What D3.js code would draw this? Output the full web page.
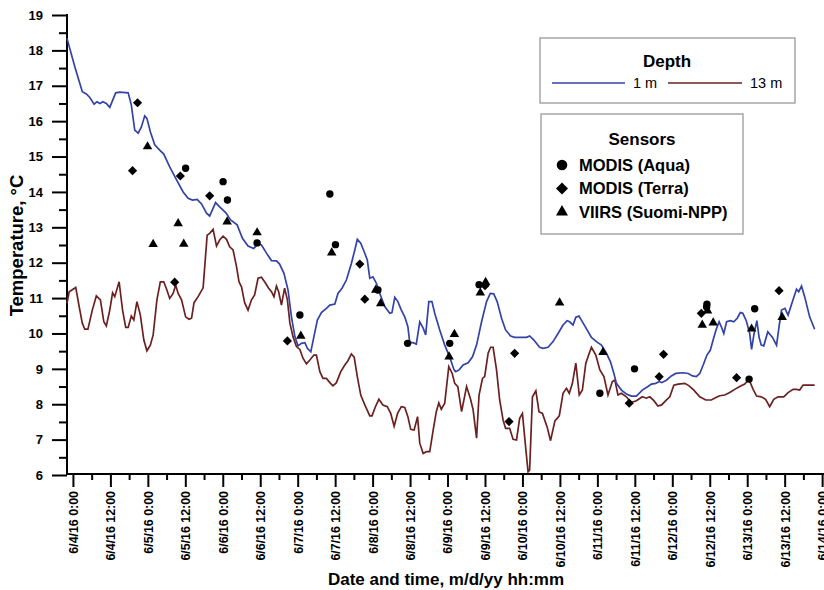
<!DOCTYPE html>
<html>
<head>
<meta charset="utf-8">
<script src="https://cdn.jsdelivr.net/npm/d3@7"></script>
<style>
  body { margin: 0; background: #fff; }
  svg { display: block; font-family: Arial, "Liberation Sans", sans-serif; }
  .tick text { font-weight: bold; fill: #000; }
</style>
</head>
<body>
<svg width="824" height="590"></svg>
<script>
// hours after 6/4/16 0:00, temperature in degC
var depth1m = [[-1.9,18.34],[0.6,17.54],[3.0,16.83],[4.3,16.77],[5.4,16.67],[6.8,16.48],[7.7,16.55],[8.6,16.5],[9.6,16.55],[10.7,16.5],[11.8,16.39],[13.7,16.8],[15.0,16.82],[17.7,16.8],[18.7,16.46],[19.8,15.75],[20.9,15.66],[21.9,15.83],[23.0,16.15],[23.7,16.08],[24.8,15.7],[26.2,15.33],[27.8,15.18],[29.1,15.07],[31.0,14.71],[33.2,14.34],[35.3,14.0],[36.9,13.82],[38.3,13.77],[39.8,13.79],[41.2,13.66],[42.8,13.40],[43.8,13.32],[45.7,13.70],[47.0,13.58],[49.0,13.41],[50.5,13.21],[52.6,13.07],[54.3,12.69],[56.1,12.47],[57.9,12.40],[59.3,12.53],[60.4,12.50],[62.0,12.27],[63.6,12.06],[65.2,12.05],[66.2,11.96],[67.6,11.70],[68.9,11.23],[70.0,10.47],[71.1,9.91],[72.1,9.65],[73.2,9.72],[74.3,9.74],[75.1,9.58],[76.2,9.48],[77.2,9.91],[78.3,10.38],[79.6,10.59],[81.2,10.71],[82.3,10.80],[83.9,10.83],[84.9,11.13],[86.2,11.28],[87.6,11.51],[89.2,11.98],[90.3,12.36],[91.1,12.66],[92.2,12.55],[93.3,12.31],[94.3,12.08],[95.1,11.56],[96.1,11.60],[97.2,11.42],[98.3,11.13],[99.9,10.76],[101.5,10.57],[102.2,10.59],[103.1,11.02],[104.1,10.90],[105.2,10.66],[106.3,10.47],[107.3,10.19],[107.9,9.74],[108.9,9.74],[110.0,9.70],[111.1,10.33],[112.2,10.15],[113.0,9.96],[114.0,10.90],[115.0,10.90],[115.9,10.57],[117.5,10.10],[119.1,9.67],[120.7,9.33],[122.1,8.97],[122.6,8.92],[123.7,8.97],[125.0,9.11],[126.6,9.17],[128.0,9.34],[129.3,9.67],[130.9,10.33],[132.5,10.90],[133.7,11.13],[134.8,11.12],[135.9,10.90],[137.3,10.43],[138.6,10.10],[140.2,9.93],[141.5,9.89],[143.1,9.89],[145.3,9.89],[146.3,9.93],[147.6,9.82],[149.5,9.61],[150.6,9.58],[152.2,9.61],[153.8,9.77],[155.4,10.0],[157.0,10.24],[158.3,10.36],[159.1,10.33],[160.2,10.24],[161.1,10.46],[162.1,10.49],[163.4,10.30],[164.7,10.10],[166.1,9.89],[167.7,9.77],[169.3,9.67],[170.9,9.44],[172.2,9.20],[173.3,8.87],[174.1,8.59],[175.7,8.40],[177.3,8.29],[178.9,8.23],[180.5,8.23],[182.4,8.40],[184.2,8.50],[185.3,8.57],[186.7,8.59],[187.8,8.64],[188.6,8.61],[190.1,8.68],[191.7,8.80],[193.1,8.87],[195.5,8.89],[197.1,8.87],[198.5,8.80],[199.7,8.78],[200.8,8.87],[201.9,9.11],[203.1,9.39],[204.2,9.53],[205.1,9.82],[206.0,10.10],[207.0,10.33],[207.8,10.17],[208.5,10.00],[209.4,10.33],[210.6,10.36],[211.7,10.33],[212.8,10.43],[213.8,10.59],[214.6,10.57],[215.7,10.36],[216.8,10.0],[217.4,9.55],[218.2,10.0],[219.1,10.36],[219.8,9.89],[220.5,9.67],[221.3,9.65],[222.6,10.05],[224.1,9.89],[225.4,9.67],[226.2,10.19],[227.0,10.66],[228.1,10.71],[229.1,10.52],[230.7,10.96],[231.8,11.25],[232.5,11.18],[233.4,11.34],[234.4,11.04],[236.0,10.47],[237.6,10.12]];

var depth13m = [[-1.9,10.85],[-1.2,11.18],[0.9,11.30],[2.0,10.76],[3.0,10.29],[3.8,10.12],[4.8,10.12],[6.2,10.66],[7.5,11.06],[8.8,10.95],[9.9,10.33],[10.7,10.21],[11.8,10.66],[12.7,11.15],[13.4,11.04],[14.8,11.46],[15.9,10.66],[16.9,10.17],[17.7,10.17],[18.7,10.49],[19.5,10.38],[20.5,10.90],[21.6,10.52],[22.7,9.82],[23.7,9.51],[24.8,9.67],[25.7,9.96],[26.9,10.95],[28.0,11.46],[29.1,11.46],[30.1,11.23],[31.0,10.99],[32.1,11.13],[32.9,11.37],[33.7,11.13],[34.8,10.95],[36.1,10.47],[37.2,10.40],[38.0,10.43],[38.8,10.87],[40.1,11.04],[41.7,11.29],[43.0,12.78],[43.8,12.83],[44.9,12.94],[46.0,12.47],[47.0,12.64],[48.1,12.75],[49.2,12.66],[50.2,12.45],[51.3,12.36],[52.4,11.89],[53.2,11.46],[54.0,11.32],[55.0,10.87],[56.1,10.66],[57.2,10.95],[58.2,11.09],[59.3,11.56],[60.4,11.59],[61.4,11.46],[62.7,11.28],[63.6,11.18],[64.4,11.04],[65.2,11.34],[65.9,11.18],[66.8,10.80],[67.8,11.28],[68.7,10.95],[69.5,10.29],[70.5,9.91],[71.6,9.63],[72.7,9.55],[73.7,9.30],[74.8,9.14],[75.9,9.25],[77.2,9.39],[78.0,9.39],[79.1,8.92],[80.1,8.73],[81.2,8.73],[82.3,8.61],[83.3,8.52],[84.4,8.61],[85.8,8.92],[87.1,9.11],[88.1,9.23],[89.2,9.42],[90.1,9.33],[91.1,8.78],[92.2,8.26],[93.5,7.98],[95.1,7.67],[95.8,7.67],[96.9,7.93],[98.0,8.14],[99.3,7.98],[100.7,7.93],[101.8,7.74],[102.9,7.38],[104.0,7.74],[105.2,7.93],[106.3,7.91],[107.3,7.65],[108.2,7.29],[109.3,7.27],[110.4,7.65],[111.1,6.90],[112.2,6.61],[113.2,6.66],[114.3,6.66],[115.4,7.27],[116.4,7.79],[117.2,8.04],[118.0,7.86],[119.1,8.03],[120.4,9.06],[121.5,8.87],[122.3,8.59],[123.3,8.50],[124.5,7.79],[126.1,8.50],[127.3,8.17],[128.2,7.84],[129.3,7.04],[130.1,8.26],[131.2,8.73],[131.9,8.78],[133.0,9.44],[133.8,9.61],[134.6,9.61],[135.7,8.97],[136.7,8.12],[137.8,7.55],[138.6,7.32],[139.9,7.32],[141.0,7.01],[142.1,6.99],[143.1,7.60],[144.0,7.74],[145.1,6.71],[145.8,6.09],[146.3,6.14],[147.2,8.21],[148.3,8.38],[149.3,7.79],[150.4,7.74],[151.9,7.36],[153.0,6.97],[154.4,7.53],[155.8,7.67],[157.0,8.31],[158.1,8.45],[159.0,8.31],[160.0,8.59],[161.1,9.16],[162.2,8.26],[163.2,8.40],[164.3,9.16],[165.4,9.44],[166.1,9.61],[167.5,9.39],[168.8,8.97],[170.1,8.78],[171.4,8.26],[172.8,8.64],[173.6,8.68],[174.6,8.26],[175.7,8.31],[177.3,8.21],[178.8,8.05],[180.5,8.10],[182.4,8.21],[183.7,8.17],[184.8,8.21],[186.1,8.10],[187.4,7.95],[188.6,7.98],[189.9,8.10],[191.2,8.21],[192.5,8.54],[193.9,8.57],[196.0,8.59],[197.4,8.52],[198.9,8.40],[200.8,8.21],[202.7,8.12],[204.5,8.12],[206.0,8.19],[207.2,8.24],[208.8,8.26],[210.4,8.33],[212.0,8.42],[213.6,8.50],[215.2,8.57],[216.3,8.68],[217.0,8.61],[217.9,8.42],[219.0,8.23],[220.5,8.21],[221.9,8.14],[223.2,7.93],[224.5,8.14],[225.9,8.21],[227.7,8.21],[229.1,8.33],[230.7,8.42],[231.8,8.42],[232.8,8.40],[233.9,8.54],[235.5,8.54],[237.6,8.54]];

var modisAqua = [[36.1,14.67],[48.1,14.29],[49.5,13.77],[59.0,12.56],[72.7,10.52],[82.3,13.94],[84.1,12.51],[97.7,11.23],[107.2,9.72],[120.7,9.72],[130.1,11.38],[168.8,8.31],[179.9,9.00],[203.1,10.83],[203.0,10.75],[216.6,8.71],[218.4,10.70]];

var modisTerra = [[20.7,16.52],[19.1,14.60],[34.4,14.45],[43.8,13.89],[32.6,11.45],[68.7,9.79],[91.9,11.96],[93.5,10.97],[132.0,11.35],[141.5,9.44],[139.7,7.51],[178.2,8.03],[187.8,8.78],[189.2,9.41],[201.3,10.57],[212.6,8.75],[226.2,11.21]];

var viirs = [[23.9,15.28],[25.7,12.52],[33.7,13.11],[35.5,12.53],[49.4,13.16],[59.0,12.85],[73.0,9.93],[82.9,12.28],[97.0,11.23],[98.6,10.85],[120.5,9.34],[122.2,9.98],[130.5,11.15],[132.2,11.45],[155.9,10.87],[169.8,9.47],[201.6,10.24],[203.3,10.64],[205.1,10.30],[217.4,10.13],[227.2,10.46]];

var yTicks = [6, 7, 8, 9, 10, 11, 12, 13, 14, 15, 16, 17, 18, 19];
var depthNames = ["1 m", "13 m"];
var sensorNames = ["MODIS (Aqua)", "MODIS (Terra)", "VIIRS (Suomi-NPP)"];

var blue = "#3343a8";
var brown = "#6b2122";

var start = new Date(2016, 5, 4, 0, 0);
function toDate(h) { return new Date(start.getTime() + h * 3600000); }

var svg = d3.select("svg");

var x = d3.scaleTime()
    .domain([toDate(-1.9), toDate(240.6)])
    .range([67, 824]);
var y = d3.scaleLinear()
    .domain([6, 19])
    .range([475, 15]);

// axes
var major = d3.timeHour.every(12).range(toDate(0), toDate(240.5));
var minor = d3.timeHour.every(6).range(toDate(0), toDate(240.5))
    .filter(function(d) { return d.getHours() % 12 !== 0; });
var fmt = d3.timeFormat("%-m/%-d/%y %-H:%M");

var gx = svg.append("g").attr("transform", "translate(0,474)");
gx.append("g")
    .call(d3.axisBottom(x).tickValues(minor).tickSize(6).tickFormat(""))
    .call(function(g) { g.select(".domain").remove(); });
gx.append("g")
    .call(d3.axisBottom(x).tickValues(major).tickSize(13).tickFormat(fmt))
    .call(function(g) { g.select(".domain").remove(); })
    .selectAll("text")
    .attr("transform", "rotate(-90)")
    .attr("x", -17)
    .attr("y", 0)
    .attr("dy", "0.36em")
    .style("text-anchor", "end")
    .style("font-size", "12.4px");
gx.selectAll("line").attr("stroke", "#000").attr("stroke-width", 2);

var gy = svg.append("g").attr("transform", "translate(67,0)");
gy.append("g")
    .call(d3.axisLeft(y).tickValues(d3.range(6.5, 19, 1)).tickSize(8).tickFormat(""))
    .call(function(g) { g.select(".domain").remove(); });
gy.append("g")
    .call(d3.axisLeft(y).tickValues(yTicks).tickSize(15).tickPadding(9).tickFormat(d3.format("d")))
    .call(function(g) { g.select(".domain").remove(); })
    .selectAll("text")
    .style("font-size", "13px");
gy.selectAll("line").attr("stroke", "#000").attr("stroke-width", 2);

svg.append("line")
    .attr("x1", 67).attr("x2", 67).attr("y1", 14).attr("y2", 475)
    .attr("stroke", "#000").attr("stroke-width", 2);
svg.append("line")
    .attr("x1", 66).attr("x2", 824).attr("y1", 474).attr("y2", 474)
    .attr("stroke", "#000").attr("stroke-width", 2);

// lines
var line = d3.line()
    .x(function(d) { return x(toDate(d[0])); })
    .y(function(d) { return y(d[1]); });

svg.append("path").datum(depth13m)
    .attr("d", line).attr("fill", "none")
    .attr("stroke", brown).attr("stroke-width", 1.7);
svg.append("path").datum(depth1m)
    .attr("d", line).attr("fill", "none")
    .attr("stroke", blue).attr("stroke-width", 1.7);

// marker shapes
function circle(r) { return function(cx, cy) { return "M" + (cx + r) + "," + cy + "A" + r + "," + r + " 0 1,1 " + (cx - r) + "," + cy + "A" + r + "," + r + " 0 1,1 " + (cx + r) + "," + cy + "Z"; }; }
function diamond(r) { return function(cx, cy) { return "M" + cx + "," + (cy - r) + "L" + (cx + r) + "," + cy + "L" + cx + "," + (cy + r) + "L" + (cx - r) + "," + cy + "Z"; }; }
function triangle(s) { return function(cx, cy) { var h = s * 0.866; return "M" + cx + "," + (cy - h * 2 / 3) + "L" + (cx + s / 2) + "," + (cy + h / 3) + "L" + (cx - s / 2) + "," + (cy + h / 3) + "Z"; }; }

var sets = [
    {data: modisAqua, shape: circle(3.7)},
    {data: modisTerra, shape: diamond(4.6)},
    {data: viirs, shape: triangle(9.5)}
];
sets.forEach(function(s) {
    svg.append("g").selectAll("path")
        .data(s.data)
      .enter().append("path")
        .attr("d", function(d) { return s.shape(x(toDate(d[0])), y(d[1])); })
        .attr("fill", "#000");
});

// axis titles
svg.append("text")
    .attr("transform", "translate(22.5,245.5) rotate(-90)")
    .attr("text-anchor", "middle")
    .style("font-size", "18.5px").style("font-weight", "bold")
    .text("Temperature, \u00B0C");
svg.append("text")
    .attr("x", 446).attr("y", 585)
    .attr("text-anchor", "middle")
    .style("font-size", "17px").style("font-weight", "bold")
    .text("Date and time, m/d/yy hh:mm");

// depth legend
var lg1 = svg.append("g");
lg1.append("rect")
    .attr("x", 540).attr("y", 38).attr("width", 255).attr("height", 65)
    .attr("fill", "#fff").attr("stroke", "#999").attr("stroke-width", 1.3);
lg1.append("text")
    .attr("x", 667).attr("y", 66.5).attr("text-anchor", "middle")
    .style("font-size", "17px").style("font-weight", "bold")
    .text("Depth");
[[552, 625, 633, blue], [668, 742, 750, brown]].forEach(function(p, i) {
    lg1.append("line")
        .attr("x1", p[0]).attr("x2", p[1]).attr("y1", 83).attr("y2", 83)
        .attr("stroke", p[3]).attr("stroke-width", 1.7);
    lg1.append("text")
        .attr("x", p[2]).attr("y", 88)
        .style("font-size", "14.5px")
        .text(depthNames[i]);
});

// sensor legend
var lg2 = svg.append("g");
lg2.append("rect")
    .attr("x", 541).attr("y", 114).attr("width", 202).attr("height", 120)
    .attr("fill", "#fff").attr("stroke", "#999").attr("stroke-width", 1.3);
lg2.append("text")
    .attr("x", 642).attr("y", 145).attr("text-anchor", "middle")
    .style("font-size", "17px").style("font-weight", "bold")
    .text("Sensors");
var legendShapes = [circle(5.3), diamond(6), triangle(12)];
sensorNames.forEach(function(name, i) {
    var cy = 165 + i * 23.5;
    lg2.append("path")
        .attr("d", legendShapes[i](562, cy))
        .attr("fill", "#000");
    lg2.append("text")
        .attr("x", 579).attr("y", cy + 5.5)
        .style("font-size", "16.5px").style("font-weight", "bold")
        .text(name);
});
</script>
</body>
</html>
